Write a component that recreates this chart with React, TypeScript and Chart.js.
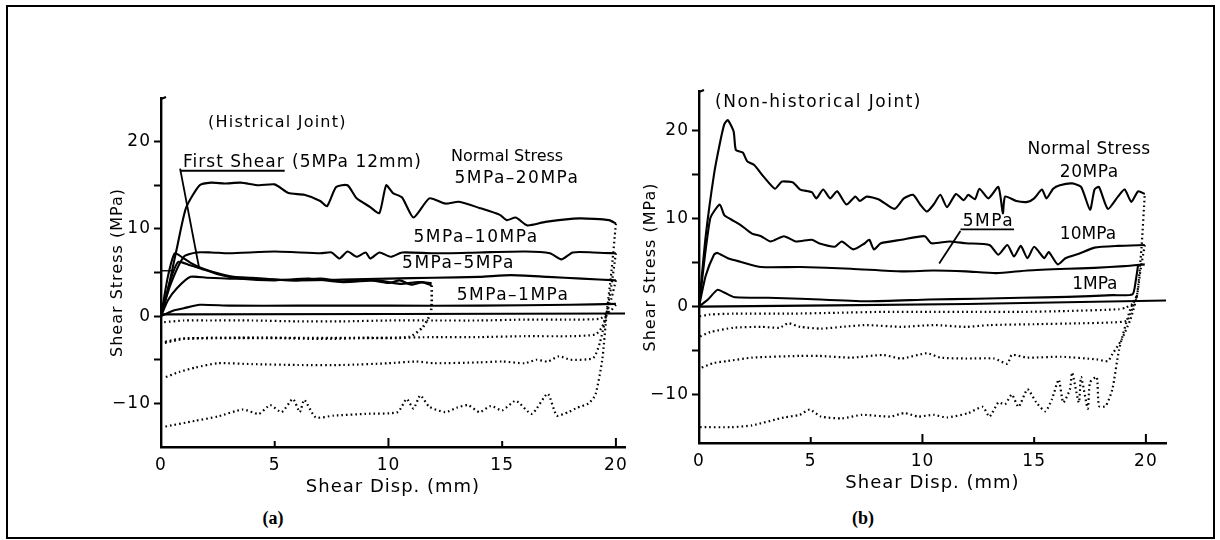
import React, { useEffect, useRef } from "react";
import { Chart, registerables } from "chart.js";

Chart.register(...registerables);

const FONT = "'DejaVu Sans', 'Liberation Sans', sans-serif";

// ---------- tick values / labels ----------
const xTickValues = [0, 5, 10, 15, 20];
const yTickValues = [-10, -5, 0, 5, 10, 15, 20];
const yLabelledTicks = [-10, 0, 10, 20];

// ---------- Panel (a): historical joint ----------
const a20X = [0, 0.3, 0.7, 1.1, 1.7, 2.2, 2.8, 3.5, 4.3, 5.0, 5.6, 6.3, 7.0, 7.3, 7.7, 8.2, 8.6, 9.2, 9.6, 9.9, 10.2, 10.6, 11.1, 11.8, 12.5, 13.1, 14.0, 14.9, 15.2, 15.6, 16.1, 16.9, 18.4, 19.7, 20.0];
const a20Y = [0, 3, 7.8, 12.4, 15.0, 15.3, 15.2, 15.3, 15.0, 15.1, 14.1, 13.9, 13.2, 12.6, 14.8, 15.0, 13.5, 12.5, 11.8, 15.0, 14.1, 13.6, 11.3, 13.5, 12.9, 13.1, 12.4, 11.6, 11.0, 11.3, 10.4, 10.8, 11.2, 11.0, 10.6];

const a10X = [0, 0.4, 1.0, 1.55, 2.2, 3, 5, 7, 7.5, 7.85, 8.2, 8.6, 9.0, 9.2, 9.6, 10.1, 10.6, 12, 14, 16, 17.1, 17.6, 18.1, 19, 20];
const a10Y = [0, 3.5, 6.8, 7.3, 7.3, 7.2, 7.4, 7.2, 7.3, 6.6, 7.4, 6.8, 7.3, 6.6, 7.3, 6.8, 7.3, 7.2, 7.3, 7.4, 7.2, 6.5, 7.3, 7.3, 7.2];

const a5X = [0, 0.3, 0.7, 1.3, 2, 3, 4, 6, 8, 10, 12, 14, 15.4, 17, 18.5, 20];
const a5Y = [0, 1.8, 3.2, 4.5, 4.4, 4.3, 4.3, 4.1, 4.2, 4.3, 4.4, 4.5, 4.7, 4.5, 4.3, 4.1];

const aFirstX = [0, 0.3, 0.6, 0.9, 1.3, 1.8, 2.5, 3.2, 4, 5, 6, 7, 8, 9, 10, 10.5, 11, 11.5, 11.9];
const aFirstY = [0, 4.5, 7.2, 6.8, 6.1, 5.5, 4.9, 4.5, 4.4, 4.2, 4.1, 4.3, 4.0, 4.2, 3.8, 4.1, 3.6, 3.9, 3.5];

const aSecondX = [0, 0.4, 0.75, 1.2, 1.7, 2.5, 3.5, 5, 6.5, 8, 9.5, 10.5, 11.3, 11.9];
const aSecondY = [0, 4.0, 6.2, 5.9, 5.5, 4.8, 4.3, 4.1, 4.3, 3.9, 4.1, 3.7, 3.9, 3.8];

const aStubX = [0, 0.55];
const aStubY = [5.2, 5.2];

const a1X = [0, 0.5, 1.0, 1.7, 3, 6, 10, 14, 18, 20];
const a1Y = [0, 0.6, 0.9, 1.3, 1.2, 1.2, 1.2, 1.2, 1.3, 1.4];

const aZeroX = [0, 20.4];
const aZeroY = [0.2, 0.3];

// reverse shear (dotted), panel (a)
const aR1X = [20, 19.8, 19.6, 19.3, 18, 16, 14, 12, 10, 8, 6, 4, 2, 1, 0.1];
const aR1Y = [1.3, 0.7, 0.3, -0.3, -0.4, -0.4, -0.5, -0.5, -0.5, -0.6, -0.6, -0.5, -0.5, -0.5, -0.7];

const aR5X = [20, 19.8, 19.6, 19.4, 19.1, 18, 16, 14, 12, 10, 8, 6, 4, 2, 0.8, 0.1];
const aR5Y = [4.1, 2.0, 0.4, -1.2, -2.1, -2.3, -2.3, -2.4, -2.4, -2.5, -2.5, -2.5, -2.5, -2.5, -2.6, -3.0];

const aRFirstX = [11.9, 11.9, 11.85, 11.5, 10.9, 9, 7, 5, 3, 1, 0.1];
const aRFirstY = [3.5, 1.5, 0.3, -1.3, -2.4, -2.5, -2.6, -2.5, -2.5, -2.6, -3.1];

const aR10X = [20, 19.8, 19.6, 19.3, 19.0, 18, 17.5, 17, 16.5, 16, 15, 14, 12, 11.2, 10, 8, 6, 4, 2.5, 1.5, 0.8, 0.1];
const aR10Y = [7.2, 3.5, 0.5, -3.0, -4.8, -5.0, -4.6, -5.2, -5.0, -5.4, -5.2, -5.3, -5.4, -5.2, -5.4, -5.6, -5.6, -5.5, -5.4, -5.9, -6.4, -7.1];

const aR20X = [20.0, 19.8, 19.6, 19.4, 19.1, 18.8, 18.3, 17.9, 17.4, 17.0, 16.3, 15.6, 15.0, 14.5, 14.0, 13.5, 13.0, 12.5, 11.8, 11.4, 11.1, 10.8, 10.4, 9.0, 7.6, 6.8, 6.3, 6.1, 5.8, 5.3, 4.8, 4.3, 3.6, 2.5, 1.5, 0.1];
const aR20Y = [10.6, 5.0, 0.5, -5.0, -9.0, -10.0, -10.5, -11.0, -11.4, -8.9, -11.2, -9.7, -10.8, -10.3, -11.0, -10.2, -10.5, -11.0, -10.4, -9.1, -10.6, -9.5, -11.0, -11.2, -11.4, -11.6, -9.6, -11.0, -9.5, -11.0, -10.2, -11.2, -10.7, -11.5, -12.0, -12.7];

// ---------- Panel (b): non-historical joint ----------
const b20X = [0, 0.3, 0.67, 0.93, 1.13, 1.29, 1.55, 1.65, 1.96, 2.16, 2.47, 2.88, 3.4, 3.7, 4.0, 4.22, 4.53, 5.05, 5.25, 5.56, 5.87, 6.18, 6.6, 7.0, 7.2, 7.5, 8.03, 8.75, 9.17, 9.58, 9.9, 10.2, 10.5, 10.8, 11.1, 11.5, 11.85, 12.05, 12.35, 12.55, 12.95, 13.4, 13.6, 13.7, 14.2, 14.7, 15.0, 15.35, 15.55, 15.85, 16.15, 16.7, 17.1, 17.5, 17.7, 17.9, 18.3, 18.75, 19.05, 19.35, 19.65, 19.95];
const b20Y = [0, 8, 15, 18.5, 20.7, 21.2, 19.9, 17.8, 17.5, 16.5, 16.1, 14.8, 13.4, 14.2, 14.2, 14.1, 13.3, 13.0, 12.3, 13.3, 12.3, 13.1, 11.6, 12.5, 12.0, 12.5, 12.2, 11.1, 12.3, 12.7, 11.6, 10.8, 11.6, 12.7, 11.3, 12.8, 12.1, 12.7, 12.2, 13.4, 12.3, 13.6, 10.6, 12.5, 12.0, 11.9, 12.3, 13.3, 12.3, 13.4, 13.8, 14.0, 13.6, 11.0, 13.3, 13.6, 11.1, 12.5, 13.3, 11.9, 13.1, 12.8];

const b10X = [0, 0.5, 0.93, 1.13, 1.44, 1.85, 2.37, 2.78, 3.2, 3.8, 4.33, 5.05, 5.36, 6.08, 6.39, 6.9, 7.42, 7.62, 7.83, 8.14, 9.06, 10.1, 10.4, 11.2, 11.95, 13.0, 13.4, 13.8, 14.1, 14.4, 14.7, 15.0, 15.45, 15.65, 16.05, 16.4, 17.0, 17.7, 18.75, 19.95];
const b10Y = [0, 10, 11.6, 10.4, 9.9, 9.3, 8.3, 8.0, 7.4, 8.0, 7.4, 7.6, 7.2, 6.8, 7.4, 6.5, 7.2, 7.6, 6.5, 7.2, 7.6, 8.0, 7.2, 7.4, 7.2, 7.0, 5.9, 7.0, 5.7, 6.9, 5.5, 6.8, 5.5, 6.2, 4.8, 5.5, 6.0, 6.7, 6.9, 7.0];

const b5X = [0, 0.3, 0.67, 0.82, 1.29, 1.85, 2.78, 4.53, 6.8, 9.06, 10.5, 11.95, 13.3, 14.7, 16.5, 17.7, 19.05, 19.95];
const b5Y = [0, 3.5, 5.9, 6.1, 5.5, 5.1, 4.5, 4.5, 4.3, 4.0, 4.1, 4.0, 3.8, 4.1, 4.3, 4.4, 4.6, 4.8];

const b1X = [0, 0.4, 0.82, 1.13, 1.55, 3.1, 4.53, 7.5, 10.3, 12.4, 14.4, 16.5, 18.5, 19.4, 19.55, 19.65];
const b1Y = [0, 0.8, 1.9, 1.6, 1.1, 1.0, 0.9, 0.6, 0.8, 0.9, 1.0, 1.1, 1.3, 1.4, 3.0, 4.7];

const bZeroX = [0, 12, 20.9];
const bZeroY = [0, 0.3, 0.7];

// reverse shear (dotted), panel (b)
const bR1X = [19.6, 19.4, 19.1, 18.8, 16.5, 14.4, 12.4, 10.3, 8.2, 6.2, 4.1, 1.55, 0.5, 0.05];
const bR1Y = [1.2, 0.3, -0.1, -0.3, -0.5, -0.6, -0.6, -0.6, -0.6, -0.7, -0.8, -0.8, -0.9, -1.1];

const bR5X = [19.6, 19.35, 19.15, 18.5, 17, 15, 13, 11.95, 10.5, 9.06, 7.5, 6.4, 5.46, 4.53, 4.0, 3.6, 2.78, 1.55, 0.5, 0.05];
const bR5Y = [1.2, -0.5, -1.6, -1.8, -1.9, -2.0, -2.1, -2.3, -2.1, -2.3, -2.1, -2.3, -2.5, -2.3, -1.9, -2.4, -2.3, -2.4, -2.9, -3.4];

const bR10X = [19.95, 19.75, 19.6, 19.3, 18.9, 18.5, 18.3, 17.8, 16.2, 14.7, 14.0, 13.8, 13.2, 11.95, 10.8, 10.2, 9.06, 8.24, 6.8, 5.36, 4.53, 2.37, 1.24, 0.67, 0.05];
const bR10Y = [7.0, 4.0, 1.2, -1.5, -3.8, -5.4, -6.2, -6.0, -5.7, -5.8, -5.5, -6.5, -5.9, -5.9, -5.8, -5.3, -5.9, -5.5, -5.8, -5.6, -5.6, -5.8, -6.2, -6.4, -7.0];

const bR20X = [0.05, 1.44, 2.37, 3.8, 4.5, 4.95, 5.46, 6.4, 7.3, 8.55, 9.2, 9.8, 10.5, 11.1, 12.05, 12.7, 13.0, 13.4, 13.7, 14.0, 14.3, 14.7, 15.1, 15.5, 15.8, 16.1, 16.3, 16.6, 16.7, 17.0, 17.1, 17.4, 17.5, 17.8, 17.9, 18.2, 18.5, 18.8, 19.3, 19.6, 19.8, 19.95];
const bR20Y = [-13.7, -13.7, -13.5, -12.6, -12.3, -11.7, -12.5, -12.7, -12.3, -12.5, -12.1, -12.5, -12.3, -12.6, -12.1, -11.4, -12.5, -10.9, -11.1, -10.0, -11.4, -9.4, -10.9, -11.9, -10.5, -8.3, -10.9, -9.4, -7.5, -10.9, -8.0, -11.6, -8.6, -8.0, -11.3, -11.3, -9.4, -4.9, -0.3, 1.3, 6.6, 12.8];

// ---------- helpers ----------
type Series = { label: string; xs: number[]; ys: number[]; dotted?: boolean; width?: number };

const pts = (xs: number[], ys: number[]) => xs.map((x, i) => ({ x, y: ys[i] }));

type Label = { text: string; x: number; y: number; size?: number; ls?: number; underline?: number };
type Seg = { x1: number; y1: number; x2: number; y2: number };

interface PanelSpec {
  left: number; top: number; width: number; height: number;
  padTop: number; padRight: number; yWidth: number; xHeight: number;
  xMax: number; yMin: number; yMax: number;
  series: Series[];
  labels: Label[];
  segs: Seg[];
}

const panelA: PanelSpec = {
  left: 100, top: 60, width: 540, height: 439,
  padTop: 38, padRight: 15, yWidth: 61, xHeight: 52,
  xMax: 20.4, yMin: -15, yMax: 25,
  series: [
    { label: "5MPa-20MPa", xs: a20X, ys: a20Y },
    { label: "5MPa-10MPa", xs: a10X, ys: a10Y },
    { label: "5MPa-5MPa", xs: a5X, ys: a5Y },
    { label: "First Shear (5MPa 12mm)", xs: aFirstX, ys: aFirstY },
    { label: "5MPa 12mm (2)", xs: aSecondX, ys: aSecondY },
    { label: "5MPa stub", xs: aStubX, ys: aStubY, width: 1.4 },
    { label: "5MPa-1MPa", xs: a1X, ys: a1Y },
    { label: "zero", xs: aZeroX, ys: aZeroY },
    { label: "5MPa-1MPa reverse", xs: aR1X, ys: aR1Y, dotted: true },
    { label: "5MPa-5MPa reverse", xs: aR5X, ys: aR5Y, dotted: true },
    { label: "First Shear reverse", xs: aRFirstX, ys: aRFirstY, dotted: true, width: 2.6 },
    { label: "5MPa-10MPa reverse", xs: aR10X, ys: aR10Y, dotted: true },
    { label: "5MPa-20MPa reverse", xs: aR20X, ys: aR20Y, dotted: true },
  ],
  labels: [
    { text: "(Histrical Joint)", x: 2.07, y: 22.1, size: 16, ls: 1.2 },
    { text: "First Shear", x: 0.97, y: 17.6, size: 17, ls: 1, underline: 0.84 },
    { text: "(5MPa 12mm)", x: 5.76, y: 17.6, size: 17, ls: 1 },
    { text: "Normal Stress", x: 12.75, y: 18.2, size: 16, ls: 0 },
    { text: "5MPa\u201320MPa", x: 12.9, y: 15.8, size: 17, ls: 1.5 },
    { text: "5MPa\u201310MPa", x: 11.1, y: 9.0, size: 17, ls: 1.5 },
    { text: "5MPa\u20135MPa", x: 10.6, y: 6.0, size: 17, ls: 1.5 },
    { text: "5MPa\u20131MPa", x: 13.0, y: 2.35, size: 17, ls: 1.5 },
  ],
  segs: [{ x1: 0.84, y1: 16.9, x2: 1.67, y2: 5.6 }],
};

const panelB: PanelSpec = {
  left: 633, top: 53, width: 547, height: 442,
  padTop: 38, padRight: 14, yWidth: 66, xHeight: 52,
  xMax: 20.9, yMin: -15.5, yMax: 24.5,
  series: [
    { label: "20MPa", xs: b20X, ys: b20Y },
    { label: "10MPa", xs: b10X, ys: b10Y },
    { label: "5MPa", xs: b5X, ys: b5Y },
    { label: "1MPa", xs: b1X, ys: b1Y },
    { label: "zero", xs: bZeroX, ys: bZeroY },
    { label: "1MPa reverse", xs: bR1X, ys: bR1Y, dotted: true },
    { label: "5MPa reverse", xs: bR5X, ys: bR5Y, dotted: true },
    { label: "10MPa reverse", xs: bR10X, ys: bR10Y, dotted: true },
    { label: "20MPa reverse", xs: bR20X, ys: bR20Y, dotted: true },
  ],
  labels: [
    { text: "(Non-historical Joint)", x: 0.72, y: 23.2, size: 17, ls: 1.5 },
    { text: "Normal Stress", x: 14.7, y: 17.8, size: 17, ls: 0.3 },
    { text: "20MPa", x: 16.15, y: 15.2, size: 17, ls: 0.5 },
    { text: "5MPa", x: 11.8, y: 9.7, size: 17, ls: 1.5, underline: 11.7 },
    { text: "10MPa", x: 16.15, y: 8.2, size: 17, ls: 0 },
    { text: "1MPa", x: 16.7, y: 2.5, size: 17, ls: 0 },
  ],
  segs: [{ x1: 11.7, y1: 8.6, x2: 10.75, y2: 4.9 }],
};

const spacingPlugin = {
  id: "spacing",
  beforeDraw(chart: any) {
    (chart.ctx as any).letterSpacing = "1px";
  },
};

const decorPlugin = {
  id: "decor",
  afterDraw(chart: any) {
    const spec: PanelSpec = chart.options.plugins.decor.spec;
    const { ctx, chartArea } = chart;
    const xs = chart.scales.x;
    const ys = chart.scales.y;
    ctx.save();
    ctx.strokeStyle = "#000";
    ctx.fillStyle = "#000";
    ctx.lineWidth = 2;
    // inward ticks on x axis
    xTickValues.slice(1).forEach((v) => {
      const px = xs.getPixelForValue(v);
      const len = v % 10 === 0 ? 9 : 6;
      ctx.beginPath();
      ctx.moveTo(px, chartArea.bottom);
      ctx.lineTo(px, chartArea.bottom - len);
      ctx.stroke();
    });
    // hook at the top of the y axis
    ctx.beginPath();
    ctx.moveTo(chartArea.left, chartArea.top + 1);
    ctx.lineTo(chartArea.left + 5, chartArea.top - 1);
    ctx.stroke();
    // leader lines
    ctx.lineWidth = 1.8;
    spec.segs.forEach((s) => {
      ctx.beginPath();
      ctx.moveTo(xs.getPixelForValue(s.x1), ys.getPixelForValue(s.y1));
      ctx.lineTo(xs.getPixelForValue(s.x2), ys.getPixelForValue(s.y2));
      ctx.stroke();
    });
    // labels
    ctx.textBaseline = "middle";
    ctx.textAlign = "left";
    spec.labels.forEach((l) => {
      const size = l.size || 15;
      ctx.font = `${size}px ${FONT}`;
      (ctx as any).letterSpacing = `${l.ls || 0}px`;
      const px = xs.getPixelForValue(l.x);
      const py = ys.getPixelForValue(l.y);
      ctx.fillText(l.text, px, py);
      if (l.underline !== undefined) {
        const w = ctx.measureText(l.text).width;
        const uy = py + size * 0.48;
        ctx.lineWidth = 1.8;
        ctx.beginPath();
        ctx.moveTo(xs.getPixelForValue(l.underline), uy);
        ctx.lineTo(px + w, uy);
        ctx.stroke();
      }
    });
    ctx.restore();
    (ctx as any).letterSpacing = "0px";
  },
};

function Panel({ spec }: { spec: PanelSpec }) {
  const ref = useRef<HTMLCanvasElement | null>(null);
  useEffect(() => {
    if (!ref.current) return;
    const chart = new Chart(ref.current, {
      type: "line",
      data: {
        datasets: spec.series.map((s) => ({
          label: s.label,
          data: pts(s.xs, s.ys),
          borderColor: "#000",
          backgroundColor: "#000",
          borderWidth: s.width || (s.dotted ? 2.2 : 2.1),
          borderDash: s.dotted ? [1.6, 3] : [],
          borderCapStyle: "butt",
          pointRadius: 0,
          tension: 0.2,
          fill: false,
        })),
      },
      options: {
        animation: false,
        responsive: false,
        maintainAspectRatio: false,
        events: [],
        layout: { padding: { top: spec.padTop, right: spec.padRight, left: 0, bottom: 0 } },
        plugins: {
          legend: { display: false },
          tooltip: { enabled: false },
          decor: { spec },
        } as any,
        scales: {
          x: {
            type: "linear",
            min: 0,
            max: spec.xMax,
            afterBuildTicks: (scale: any) => {
              scale.ticks = xTickValues.map((v) => ({ value: v }));
            },
            afterFit: (scale: any) => {
              scale.height = spec.xHeight;
            },
            grid: { display: false, drawTicks: false },
            border: { display: true, color: "#000", width: 2.4 },
            ticks: {
              color: "#000",
              padding: 8,
              maxRotation: 0,
              font: { family: FONT, size: 17 },
              callback: (v: any) => String(v),
            },
            title: {
              display: true,
              text: "Shear Disp. (mm)",
              color: "#000",
              font: { family: FONT, size: 18 },
              padding: { top: 0, bottom: 1 },
            },
          },
          y: {
            type: "linear",
            min: spec.yMin,
            max: spec.yMax,
            afterBuildTicks: (scale: any) => {
              scale.ticks = yTickValues.map((v) => ({ value: v }));
            },
            afterFit: (scale: any) => {
              scale.width = spec.yWidth;
            },
            grid: {
              display: true,
              drawOnChartArea: false,
              drawTicks: true,
              tickLength: 7,
              tickWidth: 2,
              color: "#000",
            },
            border: { display: true, color: "#000", width: 2.4 },
            ticks: {
              color: "#000",
              padding: 3,
              font: { family: FONT, size: 17 },
              callback: (v: any) => (yLabelledTicks.includes(Number(v)) ? (Number(v) < 0 ? "\u2212" + Math.abs(Number(v)) : String(v)) : ""),
            },
            title: {
              display: true,
              text: "Shear Stress (MPa)",
              color: "#000",
              font: { family: FONT, size: 16 },
              padding: { top: 8, bottom: 0 },
            },
          },
        },
      },
      plugins: [spacingPlugin, decorPlugin],
    } as any);
    return () => chart.destroy();
  }, [spec]);
  return (
    <canvas
      ref={ref}
      width={spec.width}
      height={spec.height}
      style={{ position: "absolute", left: spec.left, top: spec.top, width: spec.width, height: spec.height }}
    />
  );
}

const captionStyle: React.CSSProperties = {
  position: "absolute",
  width: 60,
  textAlign: "center",
  top: 508,
  lineHeight: "24px",
  font: "bold 18px 'Liberation Serif', 'DejaVu Serif', serif",
  color: "#000",
};

export default function App() {
  return (
    <div style={{ position: "absolute", left: 0, top: 0, width: 1220, height: 540, background: "#fff", overflow: "hidden" }}>
      <div style={{ position: "absolute", left: 6, top: 5, width: 1205, height: 530, border: "2px solid #000" }} />
      <Panel spec={panelA} />
      <Panel spec={panelB} />
      <div style={{ ...captionStyle, left: 243 }}>(a)</div>
      <div style={{ ...captionStyle, left: 833 }}>(b)</div>
    </div>
  );
}
